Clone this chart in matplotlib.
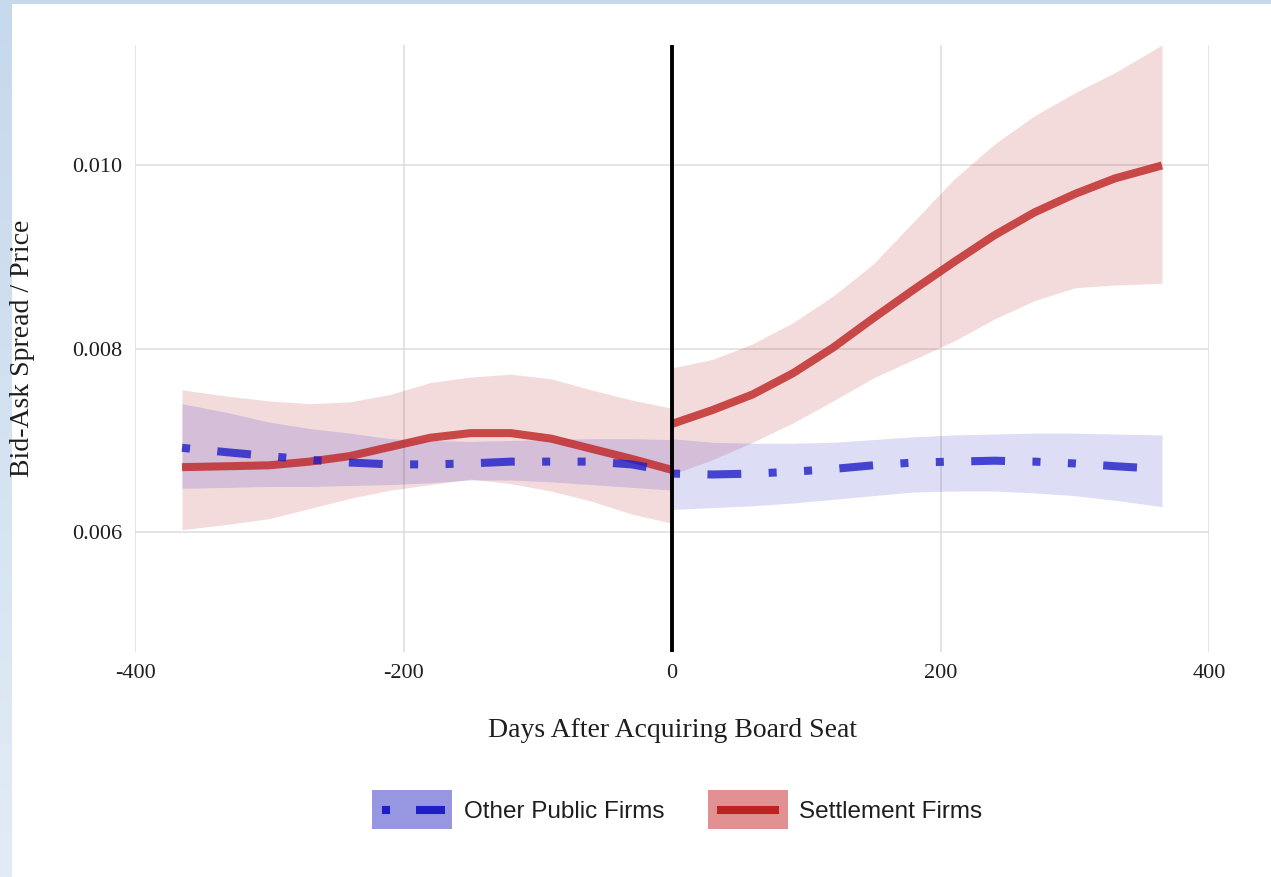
import numpy as np
import matplotlib
matplotlib.use("Agg")
import matplotlib.pyplot as plt
from matplotlib.patches import Rectangle
from matplotlib.lines import Line2D

# ---------------- data ----------------
days_before = [-365, -330, -300, -270, -240, -210, -180, -150, -120, -90, -60, -30, 0]
days_after = [0, 30, 60, 90, 120, 150, 180, 210, 240, 270, 300, 330, 365]

settle_before = [0.00671, 0.00672, 0.00673, 0.00677, 0.00683, 0.00693, 0.00703,
                 0.00708, 0.00708, 0.00702, 0.00691, 0.00680, 0.00668]
settle_before_hi = [0.00755, 0.00748, 0.00743, 0.00740, 0.00742, 0.00750, 0.00763,
                    0.00769, 0.00772, 0.00767, 0.00755, 0.00744, 0.00735]
settle_before_lo = [0.00603, 0.00609, 0.00615, 0.00626, 0.00637, 0.00646, 0.00652,
                    0.00658, 0.00653, 0.00645, 0.00634, 0.00620, 0.00610]

settle_after = [0.00718, 0.00733, 0.00750, 0.00773, 0.00801, 0.00833, 0.00864,
                0.00894, 0.00923, 0.00948, 0.00968, 0.00985, 0.00999]
settle_after_hi = [0.00779, 0.00788, 0.00805, 0.00828, 0.00857, 0.00892, 0.00938,
                   0.00984, 0.01022, 0.01053, 0.01078, 0.01100, 0.01130]
settle_after_lo = [0.00663, 0.00679, 0.00698, 0.00719, 0.00743, 0.00768, 0.00788,
                   0.00808, 0.00832, 0.00852, 0.00866, 0.00869, 0.00871]

other_before = [0.00692, 0.00687, 0.00683, 0.00679, 0.00676, 0.00674, 0.00674,
                0.00675, 0.00677, 0.00677, 0.00677, 0.00674, 0.00666]
other_before_hi = [0.00740, 0.00730, 0.00720, 0.00713, 0.00708, 0.00702, 0.00700,
                   0.00699, 0.00700, 0.00701, 0.00702, 0.00702, 0.00701]
other_before_lo = [0.00648, 0.00649, 0.00650, 0.00650, 0.00651, 0.00652, 0.00654,
                   0.00657, 0.00657, 0.00655, 0.00652, 0.00649, 0.00646]

other_after = [0.00664, 0.00663, 0.00664, 0.00666, 0.00669, 0.00673, 0.00676,
               0.00677, 0.00678, 0.00677, 0.00675, 0.00672, 0.00669]
other_after_hi = [0.00702, 0.00698, 0.00697, 0.00697, 0.00698, 0.00701, 0.00704,
                  0.00706, 0.00707, 0.00708, 0.00708, 0.00707, 0.00706]
other_after_lo = [0.00625, 0.00627, 0.00629, 0.00632, 0.00636, 0.00640, 0.00644,
                  0.00645, 0.00645, 0.00643, 0.00640, 0.00635, 0.00628]

x_ticks = [-400, -200, 0, 200, 400]
x_tick_labels = ["-400", "-200", "0", "200", "400"]
y_ticks = [0.006, 0.008, 0.010]
y_tick_labels = ["0.006", "0.008", "0.010"]
series_names = ["Other Public Firms", "Settlement Firms"]

# ---------------- style ----------------
W, H = 1271, 877
RED = "#BE2323"
BLUE = "#1E1EC8"
SERIF = ["Liberation Serif", "DejaVu Serif"]
SANS = ["Liberation Sans", "DejaVu Sans"]
TXT = "#1e1e1e"

fig = plt.figure(figsize=(W / 100, H / 100), dpi=100)
fig.patch.set_facecolor("white")

# light-blue slide border with gradient
bg = fig.add_axes([0, 0, 1, 1], zorder=-10)
grad = np.linspace(0, 1, 256)[:, None]
c_top = np.array([198, 216, 236]) / 255
c_bot = np.array([226, 236, 246]) / 255
img = c_top[None, None, :] * (1 - grad[:, :, None]) + c_bot[None, None, :] * grad[:, :, None]
bg.imshow(img, aspect="auto", extent=[0, 1, 0, 1], origin="upper")
bg.add_patch(Rectangle((12 / W, 0), 1, 1 - 4 / H, facecolor="white", edgecolor="none"))
bg.set_xlim(0, 1)
bg.set_ylim(0, 1)
bg.axis("off")

left, right, top, bottom = 135, 1209, 45, 652
ax = fig.add_axes([left / W, 1 - bottom / H, (right - left) / W, (bottom - top) / H])
ax.set_facecolor("none")
ax.set_xlim(-400, 400)
ax.set_ylim(0.0047, 0.0113)

for s in ax.spines.values():
    s.set_visible(False)
ax.set_xticks(x_ticks)
ax.set_xticklabels(x_tick_labels)
ax.set_yticks(y_ticks)
ax.set_yticklabels(y_tick_labels)
ax.tick_params(length=0, labelsize=16, labelcolor=TXT)
ax.tick_params(axis="y", pad=9)
ax.tick_params(axis="x", pad=9)
for lab in ax.get_xticklabels() + ax.get_yticklabels():
    lab.set_family(SERIF)
ax.grid(True, color="#dcdcdc", linewidth=1.1)
ax.set_axisbelow(True)

# ribbons
ax.fill_between(days_before, settle_before_lo, settle_before_hi, color=RED, alpha=0.16, linewidth=0)
ax.fill_between(days_after, settle_after_lo, settle_after_hi, color=RED, alpha=0.16, linewidth=0)
ax.fill_between(days_before, other_before_lo, other_before_hi, color=BLUE, alpha=0.15, linewidth=0)
ax.fill_between(days_after, other_after_lo, other_after_hi, color=BLUE, alpha=0.15, linewidth=0)

# lines
LW = 5.8
ax.plot(days_before, settle_before, color=RED, alpha=0.8, lw=LW, solid_capstyle="butt")
ax.plot(days_after, settle_after, color=RED, alpha=0.8, lw=LW, solid_capstyle="butt")
dash = (0, (1.0, 3.4, 4.2, 3.4, 1.0, 3.4))
ax.plot(days_before, other_before, color=BLUE, alpha=0.8, lw=LW, linestyle=dash, dash_capstyle="butt")
ax.plot(days_after, other_after, color=BLUE, alpha=0.8, lw=LW, linestyle=dash, dash_capstyle="butt")

ax.axvline(0, color="black", lw=2.8, zorder=5)

# axis titles
fig.text(672 / W, 1 - 737 / H, "Days After Acquiring Board Seat", ha="center", va="baseline",
         fontsize=20, family=SERIF, color=TXT)
fig.text(23 / W, 1 - 348 / H, "Bid-Ask Spread / Price", ha="center", va="center",
         rotation=90, fontsize=20, family=SERIF, color=TXT)

# legend (manual)
def px(x, y):
    return x / W, 1 - y / H

ky0, ky1 = 790, 829
kyc = (ky0 + ky1) / 2
fig.add_artist(Rectangle(px(372, ky1), 80 / W, (ky1 - ky0) / H, transform=fig.transFigure,
                         facecolor="#9696E1", edgecolor="none"))
fig.add_artist(Line2D([382 / W, 390 / W], [1 - kyc / H] * 2, transform=fig.transFigure,
                      color=BLUE, lw=LW, solid_capstyle="butt"))
fig.add_artist(Line2D([416 / W, 445 / W], [1 - kyc / H] * 2, transform=fig.transFigure,
                      color=BLUE, lw=LW, solid_capstyle="butt"))
fig.text(464 / W, 1 - kyc / H, series_names[0], ha="left", va="center_baseline",
         fontsize=17.5, family=SANS, color=TXT)

fig.add_artist(Rectangle(px(708, ky1), 80 / W, (ky1 - ky0) / H, transform=fig.transFigure,
                         facecolor="#E19191", edgecolor="none"))
fig.add_artist(Line2D([717 / W, 779 / W], [1 - kyc / H] * 2, transform=fig.transFigure,
                      color=RED, lw=LW, solid_capstyle="butt"))
fig.text(799 / W, 1 - kyc / H, series_names[1], ha="left", va="center_baseline",
         fontsize=17.5, family=SANS, color=TXT)

fig.savefig("out.png", dpi=100)
